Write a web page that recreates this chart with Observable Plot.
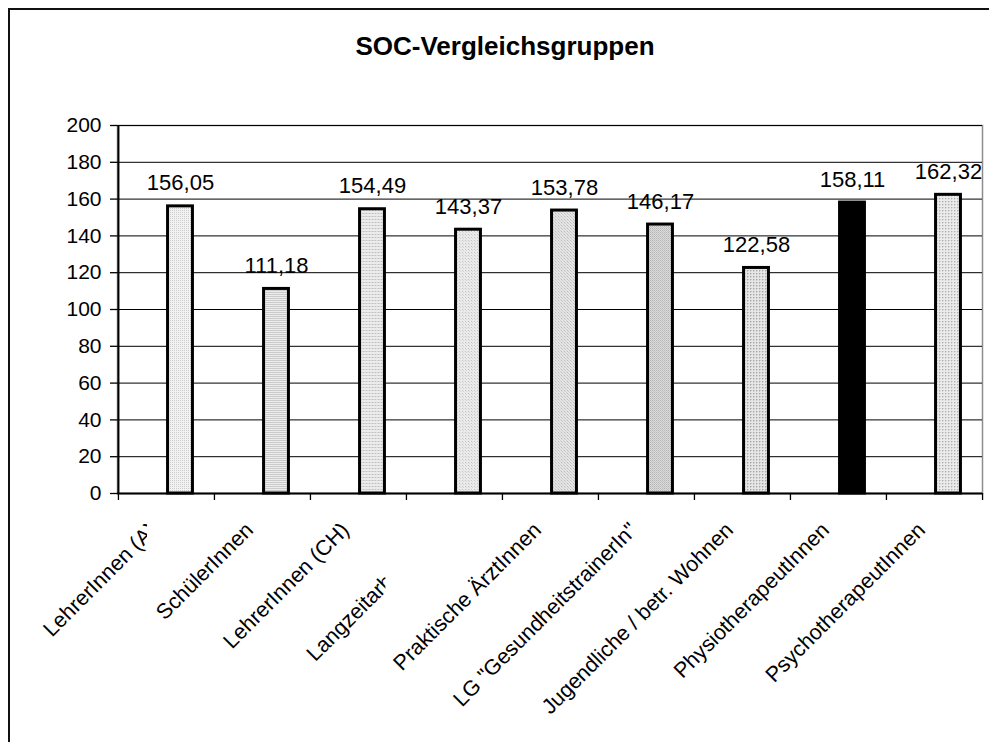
<!DOCTYPE html>
<html><head><meta charset="utf-8">
<script src="https://cdn.jsdelivr.net/npm/d3@7"></script>
<script src="https://cdn.jsdelivr.net/npm/@observablehq/plot@0.6"></script>
<style>
body{margin:0;background:#fff;font-family:"Liberation Sans",Arial,sans-serif;}
#wrap{position:relative;width:989px;height:742px;overflow:hidden;background:#fff;}
#frame{position:absolute;left:8px;top:8px;width:1000px;height:800px;border:2px solid #111;box-sizing:border-box;}
#title{position:absolute;left:9px;width:992px;top:34px;text-align:center;font-weight:bold;font-size:26px;line-height:25px;color:#000;}
#chart{position:absolute;left:0;top:0;}
</style></head>
<body>
<svg width="0" height="0" style="position:absolute">
  <defs>
    <pattern id="p0" width="2" height="2" patternUnits="userSpaceOnUse"><rect width="2" height="2" fill="#f2f2f2"/><rect width="1" height="1" fill="#cdcdcd"/></pattern>
    <pattern id="p1" width="2" height="2" patternUnits="userSpaceOnUse"><rect width="2" height="2" fill="#ececec"/><rect width="2" height="1" fill="#cbcbcb"/></pattern>
    <pattern id="p2" width="3" height="3" patternUnits="userSpaceOnUse"><rect width="3" height="3" fill="#ebebeb"/><rect width="1" height="1" fill="#bdbdbd"/><rect x="1" width="2" height="1" fill="#d8d8d8"/></pattern>
    <pattern id="p3" width="3" height="3" patternUnits="userSpaceOnUse"><rect width="3" height="3" fill="#eaeaea"/><rect width="1" height="1" fill="#c4c4c4"/><rect x="1" y="1" width="1" height="1" fill="#d6d6d6"/></pattern>
    <pattern id="p4" width="3" height="3" patternUnits="userSpaceOnUse"><rect width="3" height="3" fill="#e4e4e4"/><rect width="1" height="1" fill="#bcbcbc"/><rect x="1" y="1" width="1" height="1" fill="#cccccc"/><rect x="2" y="2" width="1" height="1" fill="#d4d4d4"/></pattern>
    <pattern id="p5" width="2" height="2" patternUnits="userSpaceOnUse"><rect width="2" height="2" fill="#dcdcdc"/><rect width="1" height="1" fill="#b4b4b4"/><rect x="1" y="1" width="1" height="1" fill="#c4c4c4"/></pattern>
    <pattern id="p6" width="3" height="3" patternUnits="userSpaceOnUse"><rect width="3" height="3" fill="#e6e6e6"/><rect width="1" height="1" fill="#a8a8a8"/><rect x="1" width="1" height="1" fill="#c8c8c8"/><rect y="1" width="1" height="1" fill="#c8c8c8"/></pattern>
    <pattern id="p8" width="3" height="3" patternUnits="userSpaceOnUse"><rect width="3" height="3" fill="#ebebeb"/><rect width="1" height="1" fill="#b0b0b0"/><rect x="1" width="1" height="1" fill="#d2d2d2"/><rect y="1" width="1" height="1" fill="#d2d2d2"/></pattern>
  </defs>
</svg>
<div id="wrap">
  <div id="frame"></div>
  <div id="title">SOC-Vergleichsgruppen</div>
  <div id="chart"></div>
</div>
<script>
// ---- data ----
const categories = [
  "LehrerInnen (A)",
  "SchülerInnen",
  "LehrerInnen (CH)",
  "Langzeitarbeitslose",
  "Praktische ÄrztInnen",
  "LG \"GesundheitstrainerIn\"",
  "Jugendliche / betr. Wohnen",
  "PhysiotherapeutInnen",
  "PsychotherapeutInnen"
];
const values = [156.05, 111.18, 154.49, 143.37, 153.78, 146.17, 122.58, 158.11, 162.32];
const yTicks = [0, 20, 40, 60, 80, 100, 120, 140, 160, 180, 200];

// ---- styles ----
const fills = ["url(#p0)", "url(#p1)", "url(#p2)", "url(#p3)", "url(#p4)", "url(#p5)", "url(#p6)", "#000000", "url(#p8)"];
const labelClip = {0: 18, 3: 68}; // px left of band center where the original cut the label

const W = 989, H = 742;
const mL = 117, mR = 7, mT = 125, mB = 249;
const bw = (W - mL - mR) / categories.length;
const barW = 28, sw = 3;
const font = "'Liberation Sans', Arial, sans-serif";

const rows = categories.map((c, i) => ({c, v: values[i], f: fills[i]}));
const fmt = v => v.toFixed(2).replace(".", ",");

const chart = Plot.plot({
  width: W, height: H,
  marginLeft: mL, marginRight: mR, marginTop: mT, marginBottom: mB,
  style: {fontFamily: font, fontSize: "21px", color: "#000", background: "transparent", overflow: "visible"},
  x: {domain: categories, padding: 0, label: null},
  y: {domain: [0, 200], label: null},
  color: {type: "identity"},
  marks: [
    Plot.frame({stroke: "#8c8c8c", strokeWidth: 1.5}),
    Plot.gridY({ticks: yTicks.slice(1), stroke: "#000", strokeOpacity: 1, strokeWidth: 1}),
    Plot.axisY({ticks: yTicks, tickSize: 7, tickPadding: 9, fontSize: 21, strokeWidth: 1.3, label: null, tickFormat: d => String(d)}),
    Plot.axisX({tickSize: 7, tickFormat: () => "", dx: -bw / 2, strokeWidth: 1.3, label: null}),
    Plot.axisX([categories[categories.length - 1]], {tickSize: 7, tickFormat: () => "", dx: bw / 2, strokeWidth: 1.3, label: null}),
    Plot.ruleX([categories[0]], {dx: -bw / 2, stroke: "#000", strokeWidth: 2}),
    Plot.ruleY([0], {stroke: "#000", strokeWidth: 2}),
    Plot.barY(rows, {
      x: "c", y: "v", fill: "f", stroke: "#000", strokeWidth: sw,
      insetLeft: bw / 2 + sw / 2, insetRight: bw / 2 - barW + sw / 2
    }),
    Plot.text(rows, {
      x: "c", y: "v", text: d => fmt(d.v), dx: barW / 2, dy: -16,
      lineAnchor: "bottom", fontSize: 22, fill: "#000"
    }),
    Plot.text(categories, {
      x: d => d, frameAnchor: "bottom", rotate: -45, textAnchor: "end", lineAnchor: "middle",
      dx: -13, dy: 33, fontSize: 21.5, fill: "#000"
    })
  ]
});
document.getElementById("chart").appendChild(chart);

// The original cut two of the category labels; reproduce that with clip paths
const svg = d3.select(chart);
const defs = svg.append("defs");
Object.keys(labelClip).forEach(key => {
  const j = +key;
  const pageX = mL + bw * (j + 0.5) - labelClip[j];
  const id = "clipLabel" + j;
  svg.selectAll("text").filter(function() { return this.textContent === categories[j]; }).each(function() {
    const parent = this.parentNode;
    const m = parent.getCTM();
    const localX = pageX - (m ? m.e : 0);
    defs.append("clipPath").attr("id", id).append("rect")
      .attr("x", -2000).attr("y", -2000).attr("width", localX + 2000).attr("height", 4000);
    const g = document.createElementNS("http://www.w3.org/2000/svg", "g");
    parent.insertBefore(g, this);
    g.appendChild(this);
    g.setAttribute("clip-path", `url(#${id})`);
  });
});
</script>
</body></html>
